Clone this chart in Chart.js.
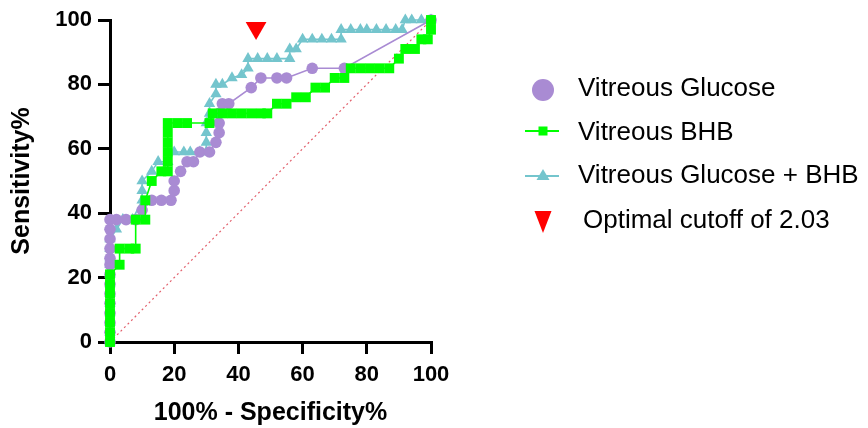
<!DOCTYPE html>
<html>
<head>
<meta charset="utf-8">
<script src="https://cdn.jsdelivr.net/npm/chart.js@4/dist/chart.umd.min.js"></script>
<style>
  html, body { margin: 0; padding: 0; background: #ffffff; }
  #wrap { width: 868px; height: 428px; position: relative; }
</style>
</head>
<body>
<div id="wrap"><canvas id="c" width="868" height="428"></canvas></div>
<script>
// ---- Data ----
const xTicks = [0, 20, 40, 60, 80, 100];
const yTicks = [0, 20, 40, 60, 80, 100];

const seriesLabels = ["Vitreous Glucose", "Vitreous BHB", "Vitreous Glucose + BHB", "Optimal cutoff of 2.03"];

const glucoseFPR  = [0,0,0,0,0,0,0,0,0,0,0,0,0,0,2,5,8,10,13,16,19,20,20,22,24,26,28,31,33,34,34,34,35,37,44,47,52,55,63,73,100];
const glucoseSens = [0,3,6,9,12,15,18,21,24,26,29,32,35,38,38,38,38,41,44,44,44,47,50,53,56,56,59,59,62,65,68,71,74,74,79,82,82,82,85,85,100];

const bhbFPR  = [0,0,0,0,0,0,0,0,3,3,6,8,8,11,11,13,16,18,18,18,18,18,18,21,24,31,32,35,38,41,44,47,49,52,55,58,61,64,67,70,73,75,78,81,84,87,90,92,95,97,99,100,100];
const bhbSens = [0,3,6,9,12,15,18,21,24,29,29,29,38,38,44,50,53,53,56,59,62,65,68,68,68,68,71,71,71,71,71,71,71,74,74,76,76,79,79,82,82,85,85,85,85,85,88,91,91,94,94,97,100];

const comboFPR  = [0,0,0,0,0,0,0,0,0,0,0,0,2,4,7,10,10,10,13,15,18,20,23,25,28,30,30,30,30,31,31,33,33,35,38,41,43,43,46,49,52,56,56,58,60,63,66,69,72,72,75,78,80,83,86,89,91,92,94,97,100];
const comboSens = [0,3,6,9,12,15,18,21,24,26,29,32,35,38,38,44,47,50,53,56,56,59,59,59,59,59,62,65,68,71,74,77,80,80,82,83,85,88,88,88,88,88,91,91,94,94,94,94,94,97,97,97,97,97,97,97,97,100,100,100,100];

const cutoffFPR  = [45.5];
const cutoffSens = [97.5];

const chanceFPR  = [0, 100];
const chanceSens = [0, 100];

// ---- Styles ----
const PURPLE = '#A98BD3';
const GREEN  = '#00FF00';
const CYAN   = '#74C5CD';
const RED    = '#FF0000';
const DIAG   = '#E2606C';
const FONT   = "'Liberation Sans', Arial, Helvetica, sans-serif";

const pts = (xs, ys) => xs.map((x, i) => ({ x: x, y: ys[i] }));

const legendPlugin = {
  id: 'sideLegend',
  afterDraw(chart) {
    const ctx = chart.ctx;
    ctx.save();
    ctx.font = "26px " + FONT;
    ctx.fillStyle = '#000';
    ctx.textBaseline = 'alphabetic';
    ctx.textAlign = 'left';
    const mx = 543;
    // Row 1: circle
    ctx.beginPath();
    ctx.fillStyle = PURPLE;
    ctx.arc(mx, 90, 11, 0, Math.PI * 2);
    ctx.fill();
    ctx.fillStyle = '#000';
    ctx.fillText(seriesLabels[0], 578, 96);
    // Row 2: green line + square
    ctx.strokeStyle = GREEN; ctx.lineWidth = 2;
    ctx.beginPath(); ctx.moveTo(525, 131); ctx.lineTo(559, 131); ctx.stroke();
    ctx.fillStyle = GREEN; ctx.fillRect(mx - 4.5, 131 - 4.5, 9, 9);
    ctx.fillStyle = '#000';
    ctx.fillText(seriesLabels[1], 578, 140);
    // Row 3: cyan line + triangle
    ctx.strokeStyle = CYAN; ctx.lineWidth = 2;
    ctx.beginPath(); ctx.moveTo(525, 176); ctx.lineTo(559, 176); ctx.stroke();
    ctx.fillStyle = CYAN;
    ctx.beginPath(); ctx.moveTo(mx, 169); ctx.lineTo(mx + 6.5, 180); ctx.lineTo(mx - 6.5, 180); ctx.closePath(); ctx.fill();
    ctx.fillStyle = '#000';
    ctx.fillText(seriesLabels[2], 578, 183);
    // Row 4: red down triangle
    ctx.fillStyle = RED;
    ctx.beginPath(); ctx.moveTo(mx - 8.5, 211); ctx.lineTo(mx + 8.5, 211); ctx.lineTo(mx, 233); ctx.closePath(); ctx.fill();
    ctx.fillStyle = '#000';
    ctx.fillText(seriesLabels[3], 583, 228);
    ctx.restore();
  }
};

const axisCommon = {
  type: 'linear',
  min: 0,
  max: 100,
  grid: { display: true, drawOnChartArea: false, drawTicks: true, tickLength: 12, color: '#000', lineWidth: 3 },
  border: { display: true, color: '#000', width: 3 },
};

new Chart(document.getElementById('c'), {
  type: 'line',
  data: {
    datasets: [
      {
        label: seriesLabels[0], data: pts(glucoseFPR, glucoseSens),
        borderColor: PURPLE, backgroundColor: PURPLE, borderWidth: 1.6,
        pointStyle: 'circle', pointRadius: 5.8, pointBorderWidth: 0, order: 2, clip: false
      },
      {
        label: seriesLabels[1], data: pts(bhbFPR, bhbSens),
        borderColor: GREEN, backgroundColor: GREEN, borderWidth: 1.6,
        pointStyle: 'rect', pointRadius: 7, pointBorderWidth: 0, order: 1, clip: false
      },
      {
        label: seriesLabels[2], data: pts(comboFPR, comboSens),
        borderColor: CYAN, backgroundColor: CYAN, borderWidth: 1.6,
        pointStyle: 'triangle', pointRadius: 6.6, pointBorderWidth: 0, order: 3, clip: false
      },
      {
        label: seriesLabels[3], data: pts(cutoffFPR, cutoffSens),
        showLine: false, borderColor: RED, backgroundColor: RED,
        pointStyle: 'triangle', pointRotation: 180, pointRadius: 12, pointBorderWidth: 0, order: 0, clip: false
      },
      {
        label: 'chance', data: pts(chanceFPR, chanceSens),
        borderColor: DIAG, borderWidth: 1.2, borderDash: [2, 3], pointRadius: 0, order: 5, clip: false
      }
    ]
  },
  options: {
    responsive: false,
    animation: false,
    devicePixelRatio: 1,
    layout: { padding: { left: 0, right: 437, top: 20, bottom: 0 } },
    plugins: { legend: { display: false }, tooltip: { enabled: false } },
    elements: { line: { tension: 0 } },
    scales: {
      x: Object.assign({}, axisCommon, {
        position: 'bottom',
        afterBuildTicks: (s) => { s.ticks = xTicks.map(v => ({ value: v })); },
        ticks: { color: '#000', font: { family: FONT, size: 22, weight: 'bold' }, padding: 8, maxRotation: 0 },
        title: { display: true, text: '100% - Specificity%', color: '#000', font: { family: FONT, size: 25, weight: 'bold' }, padding: { top: 0, bottom: 0 } },
        afterFit: (s) => { s.height = 86; }
      }),
      y: Object.assign({}, axisCommon, {
        position: 'left',
        afterBuildTicks: (s) => { s.ticks = yTicks.map(v => ({ value: v })); },
        ticks: { color: '#000', font: { family: FONT, size: 22, weight: 'bold' }, padding: 6 },
        title: { display: true, text: 'Sensitivity%', color: '#000', font: { family: FONT, size: 25, weight: 'bold' }, padding: { top: 7, bottom: 0 } },
        afterFit: (s) => { s.width = 110; }
      })
    }
  },
  plugins: [legendPlugin]
});
</script>
</body>
</html>
